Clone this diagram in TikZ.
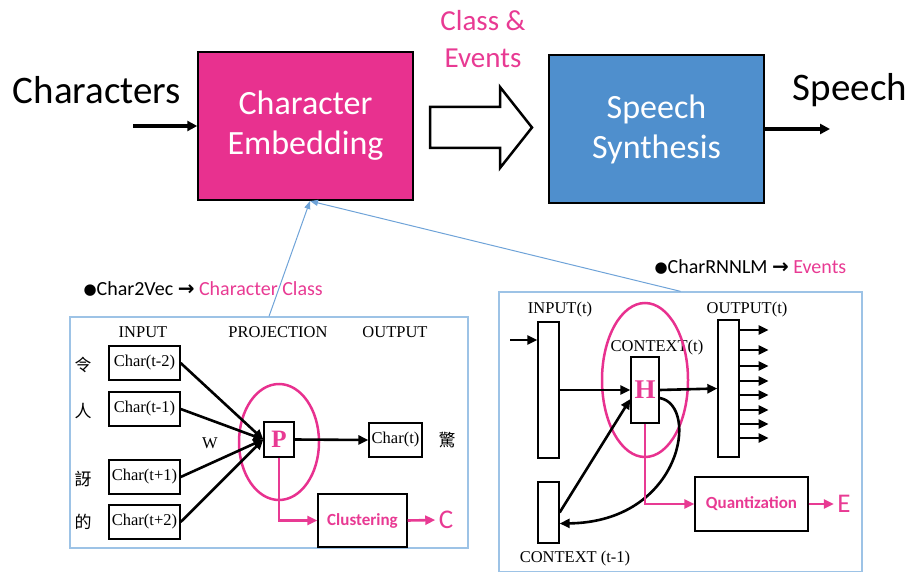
\documentclass[tikz,border=0pt]{standalone}
\usepackage{fontspec}
\setmainfont{Carlito}
\newfontfamily\timesf{Liberation Serif}
\newfontfamily\cjkf{Noto Sans CJK TC}
\newfontfamily\symf{DejaVu Sans}
\usetikzlibrary{calc}
\usetikzlibrary{arrows.meta}

\definecolor{embpink}{HTML}{E8318F}
\definecolor{txtpink}{HTML}{E83A93}
\definecolor{synblue}{HTML}{4F8FCD}
\definecolor{feedblue}{HTML}{6FA3D8}
\definecolor{panelblue}{HTML}{9DC3E6}

\tikzset{
  bigblock/.style={draw=black, line width=1.5pt, minimum width=215pt, minimum height=148pt,
    align=center, text=white, font=\fontsize{34}{40}\selectfont},
  bigarrow/.style={line width=3.5pt, -{Triangle[length=10pt,width=10pt]}},
  feed/.style={feedblue, line width=1pt, -{Triangle[length=8pt,width=6pt]}},
  panel/.style={draw=panelblue, line width=1.3pt},
  charbox/.style={draw, line width=1.3pt, minimum width=71pt, minimum height=34pt, inner sep=1pt,
    font=\timesf\fontsize{16.5}{18}\selectfont},
  lbl/.style={font=\timesf\fontsize{16.5}{18}\selectfont},
  zh/.style={font=\cjkf\fontsize{17}{18}\selectfont},
  bar/.style={draw, line width=1.3pt, minimum width=21pt, inner sep=0pt},
  arr/.style={line width=2.6pt, -{Triangle[length=10pt,width=9pt]}},
  parr/.style={txtpink, line width=2.6pt, -{Triangle[length=10pt,width=9pt]}},
  ring/.style={embpink, line width=2.5pt},
  pinkbox/.style={draw, line width=1.3pt, text=txtpink, font=\bfseries\fontsize{17}{20}\selectfont},
  bigletter/.style={text=txtpink, font=\fontsize{27}{28}\selectfont}
}

\begin{document}
\begin{tikzpicture}[x=1pt,y=-1pt]
\useasboundingbox (0,0) rectangle (912,572);

% top row
\node[bigblock, fill=embpink] (emb) at (305.5,126) {Character\\Embedding};
\node[bigblock, fill=synblue] (syn) at (656.5,129) {Speech\\Synthesis};
\node[font=\fontsize{39}{44}\selectfont] (chars) at (97,90) {Characters};
\node[font=\fontsize{39}{44}\selectfont] (speech) at (850,90) {Speech};
\node[align=center, text=txtpink, font=\fontsize{29}{37}\selectfont] (clev) at (483,39) {Class \&\\Events};
\coordinate (cin) at (133,126);
\coordinate (sout) at (830,129);
\draw[bigarrow] (cin) -- (emb.west);
\draw[bigarrow] (syn.east) -- (sout);
\draw[line width=2.5pt, fill=white] (430,107) -- (500,107) -- (500,87) -- (532,127.5)
  -- (500,168) -- (500,148) -- (430,148) -- cycle;

% panels
\node[panel, minimum width=398pt, minimum height=231pt] (c2v) at (269,432.5) {};
\node[panel, minimum width=363pt, minimum height=280pt] (rnn) at (680.5,432) {};
\coordinate (embin) at (310,201);
\draw[feed] (c2v.north) -- (embin);
\draw[feed] (rnn.north) -- (embin);
\node[anchor=west, font=\fontsize{20}{22}\selectfont] (c2vcap) at (80,289)
  {\raisebox{1.5pt}{\symf\fontsize{15}{15}\selectfont ●}Char2Vec {\symf\bfseries →} \textcolor{txtpink}{Character Class}};
\node[anchor=west, font=\fontsize{20}{22}\selectfont] (rnncap) at (651,267)
  {\raisebox{1.5pt}{\symf\fontsize{15}{15}\selectfont ●}CharRNNLM {\symf\bfseries →} \textcolor{txtpink}{Events}};

% Char2Vec
\node[lbl] (inlbl) at (143,332) {INPUT};
\node[lbl] (projlbl) at (278,332) {PROJECTION};
\node[lbl] (outlbl) at (395,332) {OUTPUT};
\node[charbox] (cm2) at (144.5,363) {Char(t-2)};
\node[charbox] (cm1) at (144.5,409) {Char(t-1)};
\node[charbox] (cp1) at (144.5,477) {Char(t+1)};
\node[charbox] (cp2) at (144.5,522) {Char(t+2)};
\node[zh] (z1) at (83,365) {令};
\node[zh] (z2) at (83,411) {人};
\node[zh] (z3) at (83,479) {訝};
\node[zh] (z4) at (83,522) {的};
\node[draw, line width=1.3pt, minimum width=30pt, minimum height=35pt, inner sep=0pt,
  text=txtpink, font=\timesf\bfseries\fontsize{25}{26}\selectfont] (p) at (279,439.5) {P};
\draw[ring] (279,442) ellipse [x radius=40, y radius=58];
\node[lbl] (w) at (210,443) {W};
\foreach \src in {cm2,cm1,cp1,cp2}
  \draw[arr] (\src.east) -- (p.west);
\node[charbox, minimum width=53pt] (ct) at (395.5,440) {Char(t)};
\node[zh] (z5) at (447,440) {驚};
\draw[arr] (p.east) -- (ct.west);
\node[pinkbox, minimum width=89pt, minimum height=53pt] (clu) at (362.5,520.5) {Clustering};
\node[bigletter] (cc) at (446,520) {C};
\draw[parr] (p.south) |- (clu.west);
\draw[parr] (clu.east) -- (cc.west);

% CharRNNLM
\node[lbl] (inlbl2) at (560,310) {INPUT(t)};
\node[lbl] (outlbl2) at (747,310) {OUTPUT(t)};
\node[lbl] (ctxlbl) at (657,348) {CONTEXT(t)};
\node[lbl] (ctxlbl2) at (575,559) {CONTEXT (t-1)};
\node[bar, minimum height=136pt] (inbar) at (548.5,390) {};
\node[bar, minimum height=137pt] (outbar) at (728.5,388.5) {};
\node[bar, minimum height=61pt] (ctx) at (548.5,512.5) {};
\node[draw, line width=1.3pt, minimum width=28pt, minimum height=66pt, inner sep=0pt,
  text=txtpink, font=\timesf\bfseries\fontsize{27}{28}\selectfont] (h) at (645,390) {H};
\draw[ring] (645,380) ellipse [x radius=43, y radius=77];
\coordinate (rin) at (510,340);
\draw[arr] (rin) -- (rin -| inbar.west);
\draw[arr] (inbar.east) -- (h.west);
\draw[arr] (h.east) -- (outbar.west);
\foreach \yy in {330,350,366,381,395,410,424,438}
  \draw[arr] (outbar.east |- 0,\yy) -- ++(29,0);
\draw[arr] (ctx.east) -- ($(h.west)+(0,9)$);
\draw[arr] ($(h.east)+(0,8)$) .. controls (700,405) and (682,522) .. ($(ctx.east)+(0,11)$);
\node[pinkbox, minimum width=113pt, minimum height=54pt] (qz) at (751.5,504) {Quantization};
\node[bigletter] (ee) at (844,504) {E};
\draw[parr] (h.south) |- (qz.west);
\draw[parr] (qz.east) -- (ee.west);

\end{tikzpicture}
\end{document}
